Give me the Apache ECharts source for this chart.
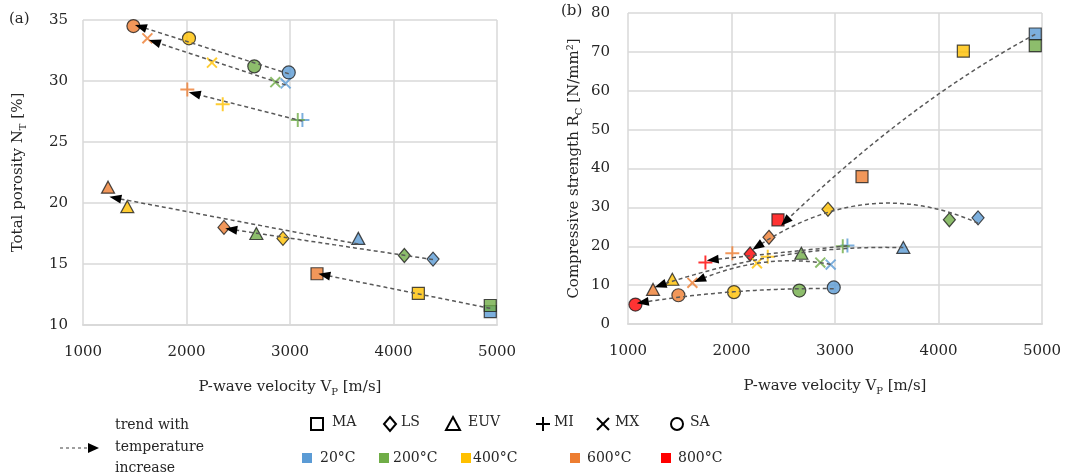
<!DOCTYPE html>
<html><head><meta charset="utf-8">
<script src="https://cdn.jsdelivr.net/npm/echarts@6/dist/echarts.min.js"></script>
<style>html,body{margin:0;padding:0;background:#fff}#c{width:1067px;height:476px}</style>
</head><body><div id="c"></div>
<script>
// ---------- DATA ----------
const TEMPS = ['20°C', '200°C', '400°C', '600°C', '800°C'];
const TYPES = ['MA', 'LS', 'EUV', 'MI', 'MX', 'SA'];
const X_TICKS = [1000, 2000, 3000, 4000, 5000];
const NT_TICKS = [10, 15, 20, 25, 30, 35];
const RC_TICKS = [0, 10, 20, 30, 40, 50, 60, 70, 80];

// P-wave velocity per temperature [20,200,400,600,800]
const VP_MA  = [4935, 4935, 4240, 3261, 2449];
const VP_LS  = [4382, 4105, 2932, 2362, 2180];
const VP_EUV = [3660, 2675, 1428, 1242, null];
const VP_MI  = [3120, 3075, 2350, 2008, 1748];
const VP_MX  = [2958, 2858, 2246, 1622, null];
const VP_SA  = [2988, 2655, 2024, 1487, 1072];

// (a) Total porosity NT [%]
const NT_MA  = [11.1, 11.6, 12.6, 14.2, null];
const NT_LS  = [15.4, 15.7, 17.1, 18.0, null];
const NT_EUV = [17.1, 17.5, 19.7, 21.3, null];
const NT_MI  = [26.8, 26.8, 28.1, 29.3, null];
const NT_MX  = [29.8, 29.9, 31.5, 33.5, null];
const NT_SA  = [30.7, 31.2, 33.5, 34.5, null];

// (b) Compressive strength RC [N/mm2]
const RC_MA  = [74.6, 71.6, 70.2, 37.9, 26.8];
const RC_LS  = [27.3, 26.8, 29.5, 22.3, 18.0];
const RC_EUV = [19.7, 18.2, 11.5, 8.9, null];
const RC_MI  = [20.2, 20.0, 17.3, 18.2, 15.8];
const RC_MX  = [15.3, 15.8, 15.6, 10.6, null];
const RC_SA  = [9.4, 8.6, 8.2, 7.4, 5.0];

// ---------- STYLE ----------
const TEMP_COLORS = ['#5B9BD5', '#70AD47', '#FFC000', '#ED7D31', '#FF0000'];
const FONT = 'DejaVu Serif';
const TXT = '#262626';
const GRIDC = '#d9d9d9';
const PLUS = 'path://M4.3,0H5.7V4.3H10V5.7H5.7V10H4.3V5.7H0V4.3H4.3Z';
const SYM = {
  MA:  {symbol: 'rect', size: 12, rot: 0, border: true},
  LS:  {symbol: 'diamond', size: [12, 14], rot: 0, border: true},
  EUV: {symbol: 'triangle', size: [13, 12], rot: 0, border: true},
  MI:  {symbol: PLUS, size: 14, rot: 0, border: false},
  MX:  {symbol: PLUS, size: 14, rot: 45, border: false},
  SA:  {symbol: 'circle', size: 13, rot: 0, border: true}
};
const VP = {MA: VP_MA, LS: VP_LS, EUV: VP_EUV, MI: VP_MI, MX: VP_MX, SA: VP_SA};
const NT = {MA: NT_MA, LS: NT_LS, EUV: NT_EUV, MI: NT_MI, MX: NT_MX, SA: NT_SA};
const RC = {MA: RC_MA, LS: RC_LS, EUV: RC_EUV, MI: RC_MI, MX: RC_MX, SA: RC_SA};

// ---------- trend helpers (least-squares polynomial) ----------
function polyfit(xs, ys, deg) {
  const n = deg + 1, A = [], b = [];
  for (let i = 0; i < n; i++) { A.push(new Array(n).fill(0)); b.push(0); }
  xs.forEach((x, k) => {
    const t = x / 1000;
    for (let i = 0; i < n; i++) {
      b[i] += ys[k] * Math.pow(t, i);
      for (let j = 0; j < n; j++) A[i][j] += Math.pow(t, i + j);
    }
  });
  for (let c = 0; c < n; c++) {
    let p = c;
    for (let r = c + 1; r < n; r++) if (Math.abs(A[r][c]) > Math.abs(A[p][c])) p = r;
    [A[c], A[p]] = [A[p], A[c]]; [b[c], b[p]] = [b[p], b[c]];
    for (let r = c + 1; r < n; r++) {
      const f = A[r][c] / A[c][c];
      for (let j = c; j < n; j++) A[r][j] -= f * A[c][j];
      b[r] -= f * b[c];
    }
  }
  const co = new Array(n).fill(0);
  for (let i = n - 1; i >= 0; i--) {
    let s = b[i];
    for (let j = i + 1; j < n; j++) s -= A[i][j] * co[j];
    co[i] = s / A[i][i];
  }
  return x => co.reduce((s, c, i) => s + c * Math.pow(x / 1000, i), 0);
}
const END_GAP = 70;
function trendSeries(xsAll, ysAll, deg, axis) {
  const xs = [], ys = [];
  xsAll.forEach((x, i) => { if (x != null && ysAll[i] != null) { xs.push(x); ys.push(ysAll[i]); } });
  const f = polyfit(xs, ys, deg);
  const x0 = Math.max(...xs), x1 = Math.min(...xs) + END_GAP;
  const N = 80, data = [];
  for (let i = 0; i <= N; i++) { const x = x0 + (x1 - x0) * i / N; data.push([x, f(x)]); }
  return {
    type: 'line', xAxisIndex: axis, yAxisIndex: axis, data: data, showSymbol: false, symbol: 'none',
    smooth: false, z: 4, silent: true,
    lineStyle: {color: '#595959', width: 1.5, type: [4, 3]},
    markLine: {
      silent: true, symbol: ['none', 'triangle'], symbolSize: [9, 12], animation: false,
      label: {show: false}, lineStyle: {color: '#000', type: 'solid', width: 1},
      data: [[{coord: data[N - 1]}, {coord: data[N]}]]
    }
  };
}
function scatterSeries(type, ysAll, axis) {
  const s = SYM[type];
  const data = [];
  VP[type].forEach((x, i) => {
    if (x != null && ysAll[i] != null) data.push({value: [x, ysAll[i]], itemStyle: {color: TEMP_COLORS[i]}});
  });
  return {
    type: 'scatter', name: type, xAxisIndex: axis, yAxisIndex: axis, data: data,
    symbol: s.symbol, symbolSize: s.size, symbolRotate: s.rot, z: 3,
    itemStyle: s.border ? {borderColor: '#1f1f1f', borderWidth: 1.2} : {borderWidth: 0, opacity: 0.8}
  };
}

const series = [];
TYPES.forEach(t => { series.push(scatterSeries(t, NT[t], 0)); });
TYPES.forEach(t => { series.push(trendSeries(VP[t], NT[t], 1, 0)); });
TYPES.forEach(t => { series.push(scatterSeries(t, RC[t], 1)); });
TYPES.forEach(t => { series.push(trendSeries(VP[t], RC[t], 2, 1)); });

const richSub = {sub: {fontFamily: FONT, fontSize: 10, lineHeight: 10, verticalAlign: 'bottom', color: TXT}};
function xAxis(idx, name) {
  return {
    gridIndex: idx, type: 'value', min: X_TICKS[0], max: X_TICKS[X_TICKS.length - 1],
    interval: X_TICKS[1] - X_TICKS[0],
    name: name, nameLocation: 'middle', nameGap: 52,
    nameTextStyle: {fontFamily: FONT, fontSize: 15, color: TXT, lineHeight: 20, rich: richSub},
    axisLine: {show: true, lineStyle: {color: GRIDC, width: 2}},
    axisTick: {show: false},
    axisLabel: {fontFamily: FONT, fontSize: 15, color: TXT, margin: 20, formatter: v => String(v)},
    splitLine: {show: true, lineStyle: {color: GRIDC, width: 1.5}}
  };
}
function yAxis(idx, ticks, name, gap, margin) {
  return {
    gridIndex: idx, type: 'value', min: ticks[0], max: ticks[ticks.length - 1], interval: ticks[1] - ticks[0],
    name: name, nameLocation: 'middle', nameGap: gap,
    nameTextStyle: {fontFamily: FONT, fontSize: 15, color: TXT, lineHeight: 20, rich: richSub},
    axisLine: {show: false}, axisTick: {show: false},
    axisLabel: {fontFamily: FONT, fontSize: 15, color: TXT, margin: margin, formatter: v => String(v)},
    splitLine: {show: true, lineStyle: {color: GRIDC, width: 1.5}}
  };
}

// ---------- legend graphics ----------
const G = [];
const stroke = {fill: 'none', stroke: '#000', lineWidth: 2};
G.push({type: 'line', shape: {x1: 60, y1: 448, x2: 90, y2: 448}, style: {stroke: '#808080', lineWidth: 1.5, lineDash: [3, 3]}});
G.push({type: 'polygon', shape: {points: [[88, 443], [99, 448], [88, 453]]}, style: {fill: '#000'}});
G.push({type: 'text', left: 115, top: 415, style: {text: 'trend with\ntemperature\nincrease', font: '14px "' + FONT + '"', fill: TXT, lineHeight: 21.5}});
const TYPE_CX = [317, 390, 453, 543, 603, 677];
const TYPE_TX = [332, 401, 468, 554, 615, 690];
const CY = 424;
TYPES.forEach((t, i) => {
  const cx = TYPE_CX[i];
  if (t === 'MA') G.push({type: 'rect', shape: {x: cx - 6, y: CY - 6, width: 12, height: 12}, style: stroke});
  if (t === 'LS') G.push({type: 'polygon', shape: {points: [[cx, CY - 7], [cx + 6, CY], [cx, CY + 7], [cx - 6, CY]]}, style: stroke});
  if (t === 'EUV') G.push({type: 'polygon', shape: {points: [[cx, CY - 7], [cx + 7, CY + 6], [cx - 7, CY + 6]]}, style: stroke});
  if (t === 'MI') { G.push({type: 'line', shape: {x1: cx - 7, y1: CY, x2: cx + 7, y2: CY}, style: stroke});
                    G.push({type: 'line', shape: {x1: cx, y1: CY - 7, x2: cx, y2: CY + 7}, style: stroke}); }
  if (t === 'MX') { G.push({type: 'line', shape: {x1: cx - 6, y1: CY - 6, x2: cx + 6, y2: CY + 6}, style: stroke});
                    G.push({type: 'line', shape: {x1: cx + 6, y1: CY - 6, x2: cx - 6, y2: CY + 6}, style: stroke}); }
  if (t === 'SA') G.push({type: 'circle', shape: {cx: cx, cy: CY, r: 6}, style: stroke});
  G.push({type: 'text', left: TYPE_TX[i], top: CY - 9, style: {text: t, font: '14px "' + FONT + '"', fill: TXT}});
});
const TEMP_SX = [302, 379, 461, 570, 661];
const TEMP_TX = [320, 393, 473, 587, 678];
TEMPS.forEach((t, i) => {
  G.push({type: 'rect', shape: {x: TEMP_SX[i], y: 453, width: 10, height: 10}, style: {fill: TEMP_COLORS[i]}});
  G.push({type: 'text', left: TEMP_TX[i], top: 451, style: {text: t, font: '14px "' + FONT + '"', fill: TXT}});
});
G.push({type: 'text', left: 9, top: 12, style: {text: '(a)', font: '15px "' + FONT + '"', fill: TXT}});
G.push({type: 'text', left: 561, top: 4, style: {text: '(b)', font: '15px "' + FONT + '"', fill: TXT}});

const chart = echarts.init(document.getElementById('c'), null, {renderer: 'canvas'});
chart.setOption({
  animation: false,
  backgroundColor: '#fff',
  grid: [
    {left: 83, right: 570, top: 20, bottom: 151},
    {left: 628, right: 25, top: 13, bottom: 152}
  ],
  xAxis: [xAxis(0, 'P-wave velocity V{sub|P} [m/s]'), xAxis(1, 'P-wave velocity V{sub|P} [m/s]')],
  yAxis: [
    yAxis(0, NT_TICKS, 'Total porosity N{sub|T} [%]', 55, 15),
    yAxis(1, RC_TICKS, 'Compressive strength R{sub|C} [N/mm²]', 44, 18)
  ],
  series: series,
  graphic: G
});
</script></body></html>
